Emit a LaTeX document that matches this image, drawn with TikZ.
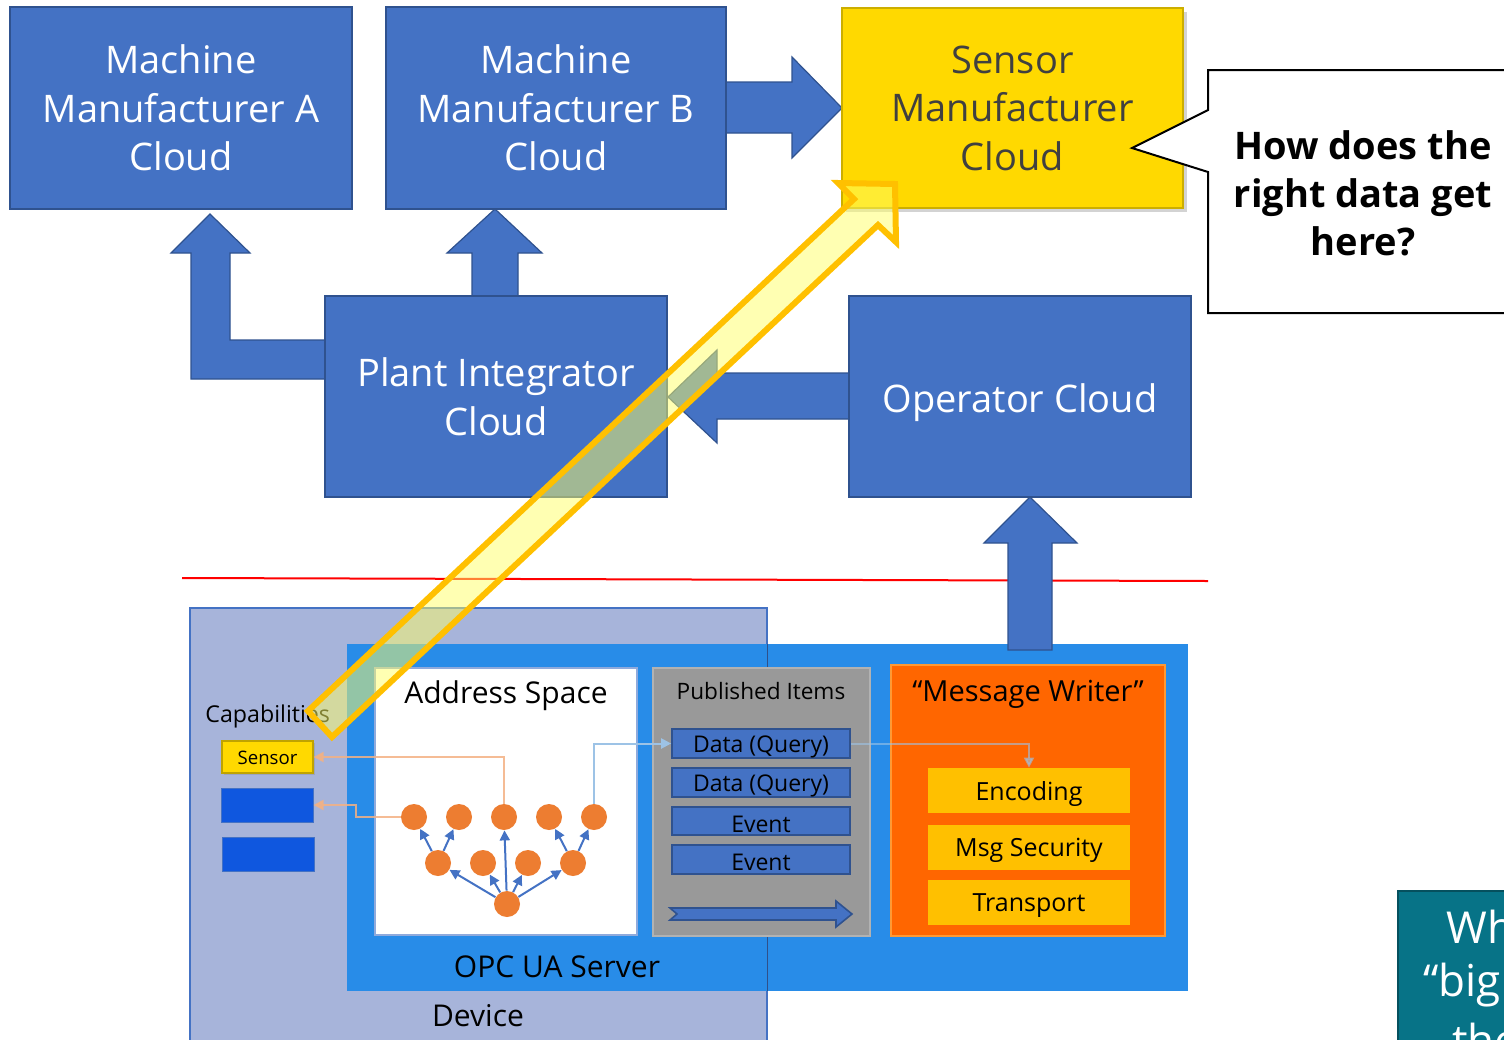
\documentclass[tikz,border=0pt]{standalone}
\usepackage{fontspec}
\setmainfont{Open Sans}
\usetikzlibrary{arrows.meta,fit,shadows}

\definecolor{cloudblue}{HTML}{4472C4}
\definecolor{cloudedge}{HTML}{2F528F}
\definecolor{sensoryellow}{HTML}{FFD900}
\definecolor{devicefill}{HTML}{A7B4DA}
\definecolor{serverblue}{HTML}{288CE8}
\definecolor{pubgray}{HTML}{999999}
\definecolor{writerorange}{HTML}{FF6600}
\definecolor{layergold}{HTML}{FFC000}
\definecolor{treeorange}{HTML}{ED7D31}
\definecolor{capblue}{HTML}{0F57DF}
\definecolor{tealbox}{HTML}{077387}
\definecolor{linkorange}{HTML}{F4B183}
\definecolor{linkblue}{HTML}{9DC3E6}
\definecolor{pathyellow}{HTML}{FFFF66}
\definecolor{darktext}{HTML}{404040}

\tikzset{
  cloudbox/.style={draw=cloudedge, fill=cloudblue, line width=0.7pt, inner sep=0pt},
  cloudtext/.style={inner sep=0pt, text=white, align=center, font=\fontsize{19}{24.25}\selectfont},
  blockarrow/.style={draw=cloudedge, fill=cloudblue, line width=0.6pt, line join=miter},
  itembox/.style={draw=cloudedge, fill=cloudblue, line width=0.8pt, inner sep=0pt},
  itemtext/.style={inner sep=0pt, yshift=-1.5pt, font=\fontsize{11.5}{13}\selectfont},
  layerbox/.style={fill=layergold, inner sep=0pt},
  layertext/.style={inner sep=0pt, yshift=-1.5pt, font=\fontsize{12.5}{14}\selectfont},
  capbox/.style={draw=cloudblue, fill=capblue, line width=0.5pt, inner sep=0pt},
  dot/.style={circle, fill=treeorange, minimum size=13pt, inner sep=0pt},
  treearrow/.style={draw=cloudblue, line width=1pt, -{Triangle[length=5pt,width=5pt]}},
  linktip/.style={-{Triangle[length=5pt,width=5pt]}, line width=1pt},
  plain/.style={inner sep=0pt}
}

\begin{document}
\begin{tikzpicture}[x=0.5pt,y=-0.5pt]
\useasboundingbox (0,0) rectangle (1504,1039);
\clip (0,0) rectangle (1504,1039);

% boundary between cloud and shop floor
\draw[red, line width=1pt] (182,578) -- (1208,581);

% device and server containers
\node[draw=cloudblue, fill=devicefill, line width=0.6pt, fit={(190,608) (767,1050)}, inner sep=0pt] (device) {};
\node[fill=serverblue, fit={(347,644) (1188,991)}, inner sep=0pt] (server) {};
\draw[cloudblue!70!black, line width=0.5pt] (767,644) -- (767,991);
\node[plain, font=\fontsize{15}{18}\selectfont] (devlabel) at (478,1016) {Device};
\node[plain, font=\fontsize{15}{18}\selectfont] (srvlabel) at (557,967) {OPC UA Server};

% block arrows between the clouds
\filldraw[blockarrow] (1008,650) -- (1008,543) -- (984,543) -- (1030,497) -- (1077,543) -- (1052,543) -- (1052,650) -- cycle;
\filldraw[blockarrow] (849,373) -- (717,373) -- (717,350) -- (668,397) -- (717,443) -- (717,419) -- (849,419) -- cycle;
\filldraw[blockarrow] (325,340) -- (230,340) -- (230,253) -- (250,253) -- (210,214) -- (171,253) -- (191,253) -- (191,379) -- (325,379) -- cycle;
\filldraw[blockarrow] (472,296) -- (472,253) -- (447,253) -- (495,209) -- (542,253) -- (518,253) -- (518,296) -- cycle;
\filldraw[blockarrow] (726,82) -- (792,82) -- (792,57) -- (842,108) -- (792,158) -- (792,133) -- (726,133) -- cycle;

% clouds
\node[cloudbox, fit={(10,7) (352,209)}] (mfa) {};
\node[cloudtext] at (mfa.center) {Machine\\Manufacturer A\\Cloud};
\node[cloudbox, fit={(386,7) (726,209)}] (mfb) {};
\node[cloudtext] at (mfb.center) {Machine\\Manufacturer B\\Cloud};
\node[cloudbox, fill=sensoryellow, draw=sensoryellow!80!black,
      drop shadow={shadow xshift=2pt, shadow yshift=-2pt, opacity=0.35},
      fit={(842,8) (1183,208)}] (smc) {};
\node[cloudtext, text=darktext] at (smc.center) {Sensor\\Manufacturer\\Cloud};
\node[cloudbox, fit={(325,296) (667,497)}] (pic) {};
\node[cloudtext] at (pic.center) {Plant Integrator\\Cloud};
\node[cloudbox, fit={(849,296) (1191,497)}] (opc) {};
\node[cloudtext, yshift=-3pt] at (opc.center) {Operator Cloud};

% capabilities of the device
\node[plain, anchor=west, font=\fontsize{11.6}{13}\selectfont] (captitle) at (205,716) {Capabilities};
\node[draw=sensoryellow!75!black, fill=sensoryellow, line width=0.6pt, inner sep=0pt,
      drop shadow={shadow xshift=1.2pt, shadow yshift=-1.2pt, opacity=0.3},
      fit={(222,741) (313,773)}] (sensor) {};
\node[plain, yshift=-0.5pt, font=\fontsize{9.3}{11}\selectfont] at (sensor.center) {Sensor};
\node[capbox, fit={(221,788) (313,822)}] (cap1) {};
\node[capbox, fit={(222,837) (314,871)}] (cap2) {};

% address space
\node[draw=cloudblue!60, fill=white, line width=0.6pt, inner sep=0pt, fit={(375,668) (637,935)}] (addr) {};
\node[plain, font=\fontsize{15}{18}\selectfont] (addrtitle) at (506,696) {Address Space};

\node[dot] (t1) at (414,817) {};
\node[dot] (t2) at (459,817) {};
\node[dot] (t3) at (504,817) {};
\node[dot] (t4) at (549,817) {};
\node[dot] (t5) at (594,817) {};
\node[dot] (m1) at (438,863) {};
\node[dot] (m2) at (483,863) {};
\node[dot] (m3) at (528,863) {};
\node[dot] (m4) at (573,863) {};
\node[dot] (root) at (507,904) {};

\draw[treearrow] (root) -- (m1);
\draw[treearrow] (root) -- (m2);
\draw[treearrow] (root) -- (t3);
\draw[treearrow] (root) -- (m3);
\draw[treearrow] (root) -- (m4);
\draw[treearrow] (m1) -- (t1);
\draw[treearrow] (m1) -- (t2);
\draw[treearrow] (m4) -- (t4);
\draw[treearrow] (m4) -- (t5);

% published items
\node[draw=gray!60, fill=pubgray, line width=0.8pt, inner sep=0pt, fit={(653,668) (870,936)}] (pub) {};
\node[plain, font=\fontsize{11.3}{13}\selectfont] (pubtitle) at (761,691) {Published Items};
\node[itembox, fit={(672,729) (850,758)}] (data1) {};
\node[itemtext] at (data1.center) {Data (Query)};
\node[itembox, fit={(672,768) (850,797)}] (data2) {};
\node[itemtext] at (data2.center) {Data (Query)};
\node[itembox, fit={(672,807) (850,835)}] (event1) {};
\node[itemtext] at (event1.center) {Event};
\node[itembox, fit={(672,845) (850,874)}] (event2) {};
\node[itemtext] at (event2.center) {Event};
\filldraw[blockarrow, line width=0.8pt] (670,908) -- (836,908) -- (836,901) -- (852,914) -- (836,927) -- (836,920) -- (670,920) -- (677,914) -- cycle;

% message writer
\node[draw=orange!80, fill=writerorange, line width=0.6pt, inner sep=0pt, fit={(891,665) (1165,936)}] (writer) {};
\node[plain, font=\fontsize{14.5}{17}\selectfont] (writertitle) at (1028,694) {“Message Writer”};
\node[layerbox, fit={(928,768) (1130,813)}] (enc) {};
\node[layertext] at (enc.center) {Encoding};
\node[layerbox, fit={(928,825) (1130,870)}] (sec) {};
\node[layertext] at (sec.center) {Msg Security};
\node[layerbox, fit={(928,880) (1130,925)}] (trans) {};
\node[layertext] at (trans.center) {Transport};

% data links
\draw[linktip, draw=linkorange, opacity=0.85] (t3.north) |- (sensor.east);
\draw[linktip, draw=linkorange, opacity=0.85] (t1.west) -| (356,805) -- (cap1.east);
\draw[linktip, draw=linkblue] (t5.north) |- (data1.west);
\draw[linktip, draw=linkblue, opacity=0.6] (data1.east) -| (enc.north);

% path of the sensor data to its manufacturer
\filldraw[draw=layergold, fill=pathyellow, fill opacity=0.5, line width=3pt, line join=miter]
  (308,711) -- (854,199) -- (838,183) -- (895,184) -- (896,242) -- (878,225) -- (332,737) -- cycle;

% question callout
\coordinate (ctip) at (1132,148);
\filldraw[draw=black, fill=white, line width=1pt, line join=miter]
  (1208,70) -- (1530,70) -- (1530,313) -- (1208,313) -- (1208,172) -- (ctip) -- (1208,110) -- cycle;
\node[plain, align=center, font=\bfseries\fontsize{19}{24}\selectfont] (question) at (1363,193)
  {How does the\\right data get\\here?};

% teal panel at the corner
\node[draw=tealbox!70!black, fill=tealbox, line width=0.6pt, inner sep=0pt, fit={(1398,891) (1540,1060)}] (teal) {};
\node[plain, anchor=west, text=white, font=\fontsize{22}{26}\selectfont] (teal1) at (1446,927) {What};
\node[plain, anchor=west, text=white, font=\fontsize{22}{26}\selectfont] (teal2) at (1423,985) {“big};
\node[plain, anchor=west, text=white, font=\fontsize{22}{26}\selectfont] (teal3) at (1452,1040) {the};
\end{tikzpicture}
\end{document}
